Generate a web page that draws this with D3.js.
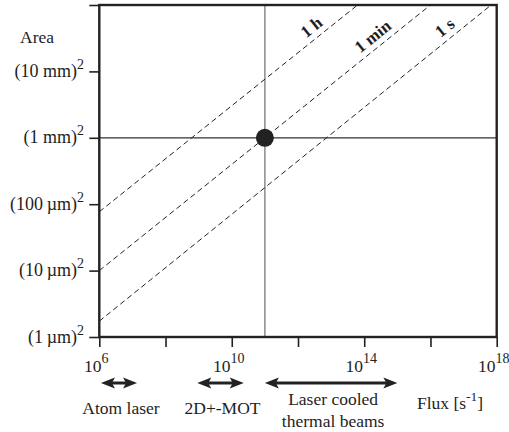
<!DOCTYPE html>
<html>
    <head>
        <title>Flux vs area</title>
        <meta charset="UTF-8">
        <script src="https://cdnjs.cloudflare.com/ajax/libs/d3/7.9.0/d3.min.js"></script>
        <style>
            html, body {
                margin: 0;
                padding: 0;
                background: #fff;
            }
        </style>
    </head>
    <body>
        <div id="chart"></div>
        <script>
            // axis ticks
            var fluxTicks = [1e6, 1e8, 1e10, 1e12, 1e14, 1e16, 1e18];
            var fluxLabelTicks = [1e6, 1e10, 1e14, 1e18];
            var fluxLabelExp = ["6", "10", "14", "18"];
            var areaTicks = [1e-12, 1e-10, 1e-8, 1e-6, 1e-4, 1e-2];
            var areaLabels = ["(1\u2009\u00b5m)", "(10\u2009\u00b5m)", "(100\u2009\u00b5m)", "(1 mm)", "(10 mm)", ""];

            // constant loading time lines: [flux, area] at both ends
            var timeLabels = ["1 h", "1 min", "1 s"];
            var timeStart = [[1e6, 5.9e-9], [1e6, 1e-10], [1e6, 3.0e-12]];
            var timeEnd = [[6.3e13, 1e-2], [1e16, 1e-2], [6.8e17, 1e-2]];
            var timeLabelFlux = [4.2e12, 3.0e14, 4.5e16];

            // operating point
            var pointFlux = 1e11;
            var pointArea = 1e-6;

            // flux ranges of sources
            var sourceNames = [["Atom laser"], ["2D+-MOT"], ["Laser cooled", "thermal beams"]];
            var sourceMin = [1.12e6, 9.1e8, 1e11];
            var sourceMax = [1.38e7, 2.3e10, 1e15];

            var FONT = '"Liberation Serif", "DejaVu Serif", "Times New Roman", serif';

            function draw(){
                var w = 509, h = 432;
                var mLeft = 99.3, mRight = 496.7, mTop = 5, mBottom = 337;

                var svg = d3.select("#chart").append("svg")
                        .attr("width", w)
                        .attr("height", h)
                        .attr("font-family", FONT);

                svg.append("rect")
                    .attr("width", w)
                    .attr("height", h)
                    .attr("fill", "#fff");

                var x = d3.scaleLog()
                        .domain([1e6, 1e18])
                        .range([mLeft, mRight]);
                var y = d3.scaleLog()
                        .domain([1e-12, 1e-2])
                        .range([mBottom, mTop]);

                function label(){
                    return svg.append("text")
                        .attr("font-family", FONT)
                        .attr("fill", "#1e1e1e");
                }

                // cross hair through the point
                svg.append("line")
                    .attr("x1", x(pointFlux)).attr("x2", x(pointFlux))
                    .attr("y1", mTop).attr("y2", mBottom)
                    .attr("stroke", "#8a8a8a")
                    .attr("stroke-width", 1.5);
                svg.append("line")
                    .attr("x1", mLeft).attr("x2", mRight)
                    .attr("y1", y(pointArea)).attr("y2", y(pointArea))
                    .attr("stroke", "#333")
                    .attr("stroke-width", 1.2);

                // dashed lines
                var line = d3.line()
                        .x(d => x(d[0]))
                        .y(d => y(d[1]));
                timeLabels.forEach(function(lab, i){
                    svg.append("path")
                        .datum([timeStart[i], timeEnd[i]])
                        .attr("fill", "none")
                        .attr("stroke", "#222")
                        .attr("stroke-width", 1)
                        .attr("stroke-dasharray", "5.5 3.5")
                        .attr("d", line);

                    var x0 = x(timeStart[i][0]), y0 = y(timeStart[i][1]);
                    var x1 = x(timeEnd[i][0]), y1 = y(timeEnd[i][1]);
                    var lx = x(timeLabelFlux[i]);
                    var ly = y0 + (y1 - y0) * (lx - x0) / (x1 - x0);
                    var ang = Math.atan2(y1 - y0, x1 - x0) * 180 / Math.PI;
                    label()
                        .attr("transform", "translate(" + lx + "," + ly + ") rotate(" + ang + ")")
                        .attr("text-anchor", "middle")
                        .attr("dy", -6)
                        .attr("font-size", 17)
                        .attr("font-weight", "bold")
                        .text(lab);
                });

                // frame
                svg.append("rect")
                    .attr("x", mLeft).attr("y", mTop)
                    .attr("width", mRight - mLeft).attr("height", mBottom - mTop)
                    .attr("fill", "none")
                    .attr("stroke", "#222")
                    .attr("stroke-width", 2.4);

                // left ticks
                var yAxis = d3.axisLeft(y)
                        .tickValues(areaTicks)
                        .tickSize(10)
                        .tickFormat("");
                var ga = svg.append("g")
                        .attr("transform", "translate(" + mLeft + ",0)")
                        .call(yAxis);
                ga.select(".domain").remove();
                ga.selectAll(".tick line").attr("stroke", "#222").attr("stroke-width", 1.6);

                areaTicks.forEach(function(v, i){
                    if(!areaLabels[i]) return;
                    var t = label()
                        .attr("x", 84)
                        .attr("y", y(v) + 5.5)
                        .attr("text-anchor", "end")
                        .attr("font-size", 18);
                    t.append("tspan").text(areaLabels[i]);
                    t.append("tspan").attr("dy", -8).attr("font-size", 14).text("2");
                });

                label()
                    .attr("x", 20)
                    .attr("y", 42.5)
                    .attr("font-size", 17.5)
                    .text("Area");

                // bottom ticks
                var xAxis = d3.axisBottom(x)
                        .tickValues(fluxTicks)
                        .tickSize(10)
                        .tickFormat("");
                var gb = svg.append("g")
                        .attr("transform", "translate(0," + mBottom + ")")
                        .call(xAxis);
                gb.select(".domain").remove();
                gb.selectAll(".tick line").attr("stroke", "#222").attr("stroke-width", 1.6);

                fluxLabelTicks.forEach(function(v, i){
                    var t = label()
                        .attr("x", x(v) - 3)
                        .attr("y", 372)
                        .attr("text-anchor", "middle")
                        .attr("font-size", 17.5);
                    t.append("tspan").text("10");
                    t.append("tspan").attr("dy", -9).attr("font-size", 14).text(fluxLabelExp[i]);
                });

                var fl = label()
                    .attr("x", 417)
                    .attr("y", 409)
                    .attr("font-size", 17.5);
                fl.append("tspan").text("Flux [s");
                fl.append("tspan").attr("dy", -8).attr("font-size", 13.5).text("-1");
                fl.append("tspan").attr("dy", 8).text("]");

                // source ranges
                var ay = 383, headL = 14, headW = 5.5;
                sourceNames.forEach(function(names, i){
                    var a = x(sourceMin[i]), b = x(sourceMax[i]);
                    svg.append("line")
                        .attr("x1", a + 8).attr("x2", b - 8)
                        .attr("y1", ay).attr("y2", ay)
                        .attr("stroke", "#222")
                        .attr("stroke-width", 3);
                    svg.append("path")
                        .attr("fill", "#222")
                        .attr("d", "M" + a + "," + ay + "L" + (a + headL) + "," + (ay - headW) +
                            "L" + (a + headL - 3) + "," + ay + "L" + (a + headL) + "," + (ay + headW) + "Z");
                    svg.append("path")
                        .attr("fill", "#222")
                        .attr("d", "M" + b + "," + ay + "L" + (b - headL) + "," + (ay - headW) +
                            "L" + (b - headL + 3) + "," + ay + "L" + (b - headL) + "," + (ay + headW) + "Z");

                    var cx = (a + b) / 2 + 2;
                    var y0 = names.length > 1 ? 405 : 414;
                    names.forEach(function(n, j){
                        label()
                            .attr("x", cx)
                            .attr("y", y0 + j * 22)
                            .attr("text-anchor", "middle")
                            .attr("font-size", 17.5)
                            .text(n);
                    });
                });

                svg.append("circle")
                    .attr("cx", x(pointFlux))
                    .attr("cy", y(pointArea))
                    .attr("r", 9)
                    .attr("fill", "#222");
            }
            draw();
        </script>
    </body>
</html>
